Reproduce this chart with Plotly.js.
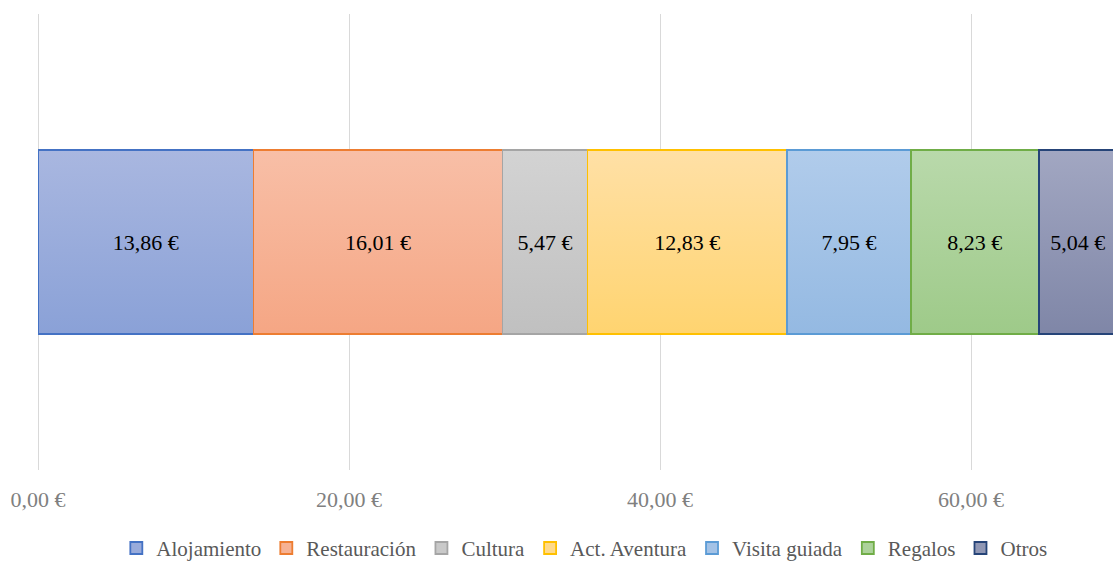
<!DOCTYPE html>
<html>
<head>
<meta charset="utf-8">
<script src="https://cdn.plot.ly/plotly-3.0.1.min.js"></script>
<style>html,body{margin:0;padding:0;overflow:hidden;background:#fff;}</style>
</head>
<body>
<div id="chart" style="width:1113px;height:563px;"></div>
<script>
const categories = ["Alojamiento", "Restauración", "Cultura", "Act. Aventura", "Visita guiada", "Regalos", "Otros"];
const values = [13.86, 16.01, 5.47, 12.83, 7.95, 8.23, 5.04];
const fillColors = ["#99ABDB", "#F6B294", "#C9C9C9", "#FFDA8B", "#A3C2E6", "#ACD29A", "#9097B4"];
const topColors = ["#A9B7E0", "#F8BFA7", "#D3D3D3", "#FFE0A6", "#B1CCEB", "#B9D9AB", "#A2A7C2"];
const bottomColors = ["#8AA1D7", "#F5A684", "#C0C0C0", "#FFD470", "#94B9E2", "#9ECA89", "#7F86A7"];
const lineColors = ["#4472C4", "#ED7D31", "#A5A5A5", "#FFC000", "#5B9BD5", "#70AD47", "#264478"];
const tickValues = [0, 20, 40, 60];

const FONT = "'Liberation Serif', 'DejaVu Serif', serif";

function euro(v) { return v.toFixed(2).replace('.', ',') + ' €'; }

const traces = categories.map((name, i) => ({
  type: 'bar',
  orientation: 'h',
  name: name,
  x: [values[i]],
  y: ['Gasto'],
  text: [euro(values[i])],
  textposition: 'inside',
  insidetextanchor: 'middle',
  textangle: 0,
  insidetextfont: {family: FONT, size: 22, color: '#000000'},
  marker: {color: fillColors[i], line: {color: lineColors[i], width: 1.8}},
  hoverinfo: 'skip'
}));

const layout = {
  width: 1113,
  height: 563,
  margin: {l: 38, r: 0, t: 14, b: 93},
  barmode: 'stack',
  bargap: 0.595,
  paper_bgcolor: '#ffffff',
  plot_bgcolor: '#ffffff',
  separators: ',.',
  showlegend: true,
  font: {family: FONT, size: 22, color: '#7F7F7F'},
  xaxis: {
    range: [0, 69.13],
    tickvals: tickValues,
    ticktext: tickValues.map(euro),
    showgrid: true,
    gridcolor: '#D9D9D9',
    gridwidth: 1,
    zeroline: true,
    zerolinecolor: '#D9D9D9',
    zerolinewidth: 1,
    showline: false,
    ticks: '',
    tickfont: {family: FONT, size: 22, color: '#808080'},
    ticklabelstandoff: 14,
    fixedrange: true,
    layer: 'below traces'
  },
  yaxis: {visible: false, range: [-0.5, 0.5], fixedrange: true},
  legend: {
    orientation: 'h',
    xref: 'container', yref: 'container',
    x: 0.525, xanchor: 'center',
    y: 0.026, yanchor: 'middle',
    traceorder: 'normal',
    font: {family: FONT, size: 21, color: '#595959'},
    itemwidth: 30,
    itemclick: false
  }
};

Plotly.newPlot('chart', traces, layout, {displayModeBar: false, staticPlot: true}).then(gd => {
  const svgNS = 'http://www.w3.org/2000/svg';
  const svg = gd.querySelector('.main-svg');
  let defs = svg.querySelector('defs');
  if (!defs) { defs = document.createElementNS(svgNS, 'defs'); svg.insertBefore(defs, svg.firstChild); }
  categories.forEach((c, i) => {
    const g = document.createElementNS(svgNS, 'linearGradient');
    g.setAttribute('id', 'bargrad' + i);
    g.setAttribute('x1', '0'); g.setAttribute('y1', '0');
    g.setAttribute('x2', '0'); g.setAttribute('y2', '1');
    [[0, topColors[i]], [1, bottomColors[i]]].forEach(([o, col]) => {
      const s = document.createElementNS(svgNS, 'stop');
      s.setAttribute('offset', o);
      s.setAttribute('stop-color', col);
      g.appendChild(s);
    });
    defs.appendChild(g);
  });
  gd.querySelectorAll('.barlayer .trace').forEach((t, i) => {
    t.querySelectorAll('.point path').forEach(p => { p.style.fill = 'url(#bargrad' + i + ')'; });
  });
});
</script>
</body>
</html>
